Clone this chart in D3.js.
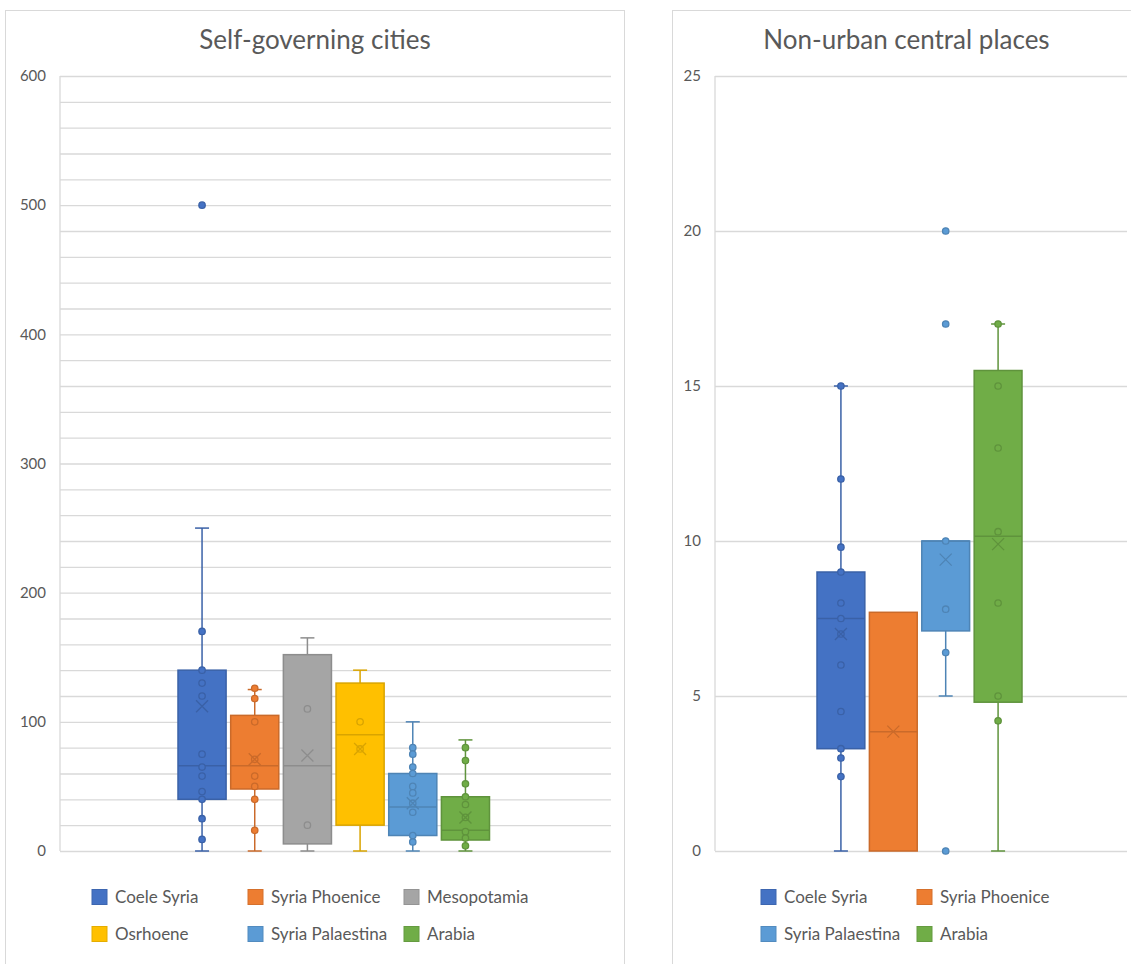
<!DOCTYPE html>
<html>
<head>
<meta charset="utf-8">
<script src="https://cdn.jsdelivr.net/npm/d3@7"></script>
<style>
  body { margin: 0; background: #fff; }
  svg { display: block; font-family: Lato, "Open Sans", sans-serif; }
</style>
</head>
<body>
<svg id="chart" width="1131" height="964"></svg>
<script>
// Left chart: self-governing cities
const leftSeries = ['Coele Syria', 'Syria Phoenice', 'Mesopotamia', 'Osrhoene', 'Syria Palaestina', 'Arabia'];
const leftColors = ['#4472C4', '#ED7D31', '#A5A5A5', '#FFC000', '#5B9BD5', '#70AD47'];
const leftMin = [0, 0, 0, 0, 0, 0];
const leftQ1 = [40, 48, 5.5, 20, 12, 8.5];
const leftMedian = [66, 66, 66, 90, 34, 16];
const leftQ3 = [140, 105, 152, 130, 60, 42];
const leftMax = [250, 125, 165, 140, 100, 86];
const leftMean = [112, 71, 74, 79, 37, 26];
const leftPoints = [
  [500, 170, 140, 130, 120, 75, 65, 58, 46, 40, 25, 9],
  [126, 118, 100, 71, 58, 50, 40, 16],
  [110, 20],
  [100, 79],
  [80, 75, 65, 60, 50, 45, 37, 30, 12, 7],
  [80, 70, 52, 42, 36, 26, 15, 10, 4],
];
const leftTicks = [0, 100, 200, 300, 400, 500, 600];
const leftGrid = d3.range(0, 601, 20);

// Right chart: non-urban central places
const rightSeries = ['Coele Syria', 'Syria Phoenice', 'Syria Palaestina', 'Arabia'];
const rightColors = ['#4472C4', '#ED7D31', '#5B9BD5', '#70AD47'];
const rightMin = [0, 0, 5, 0];
const rightQ1 = [3.3, 0, 7.1, 4.8];
const rightMedian = [7.5, 3.85, 10, 10.15];
const rightQ3 = [9, 7.7, 10, 15.5];
const rightMax = [15, 7.7, 10, 17];
const rightMean = [7.0, 3.85, 9.4, 9.9];
const rightPoints = [
  [15, 12, 9.8, 9, 8, 7.5, 7, 6, 4.5, 3.3, 3, 2.4],
  [],
  [20, 17, 10, 7.8, 6.4, 0],
  [17, 15, 13, 10.3, 8, 5, 4.2],
];
const rightTicks = [0, 5, 10, 15, 20, 25];
const rightGrid = rightTicks;

const svg = d3.select('#chart');
const textColor = '#595959';
const gridColor = '#d9d9d9';

const drawBoxChart = (opts) => {
  const g = svg.append('g');

  // panel frame
  g.append('rect')
    .attr('x', opts.panel[0]).attr('y', opts.panel[1])
    .attr('width', opts.panel[2]).attr('height', opts.panel[3])
    .attr('fill', '#fff').attr('stroke', gridColor);

  // title
  g.append('text')
    .attr('x', opts.panel[0] + opts.panel[2] / 2)
    .attr('y', 49)
    .attr('text-anchor', 'middle')
    .attr('fill', textColor)
    .style('font-size', '26px')
    .text(opts.title);

  const y = d3.scaleLinear().domain(opts.domain).range([851, 76]);
  const x = d3.scaleBand().domain(opts.series).range(opts.boxRange).paddingInner(0.087).paddingOuter(0);

  // gridlines
  g.append('g')
    .attr('transform', `translate(${opts.plot[0]},0)`)
    .call(d3.axisLeft(y).tickValues(opts.grid).tickSize(-(opts.plot[1] - opts.plot[0])).tickFormat(''))
    .call((a) => a.select('.domain').remove())
    .call((a) => a.selectAll('line').attr('stroke', gridColor).attr('stroke-width', 1.3));

  // left edge of the plot
  g.append('line')
    .attr('x1', opts.plot[0]).attr('x2', opts.plot[0])
    .attr('y1', y(opts.domain[1])).attr('y2', y(opts.domain[0]))
    .attr('stroke', gridColor).attr('stroke-width', 1.3);

  // tick labels
  g.append('g')
    .attr('transform', `translate(${opts.plot[0]},0)`)
    .call(d3.axisLeft(y).tickValues(opts.ticks).tickSize(0).tickPadding(14))
    .call((a) => a.select('.domain').remove())
    .call((a) => a.selectAll('text')
      .attr('fill', textColor)
      .style('font-size', '15px')
      .style('font-family', 'Lato, sans-serif'));

  const bw = x.bandwidth();
  const capW = 14;

  opts.series.forEach((name, i) => {
    const color = opts.colors[i];
    const dark = d3.color(color).darker(0.45).formatHex();
    const cx = x(name) + bw / 2;
    const s = g.append('g');

    // whiskers
    const whiskers = [[opts.q3[i], opts.max[i]], [opts.q1[i], opts.min[i]]];
    whiskers.forEach(([from, to]) => {
      if (from === to) return;
      s.append('line')
        .attr('x1', cx).attr('x2', cx).attr('y1', y(from)).attr('y2', y(to))
        .attr('stroke', dark).attr('stroke-width', 1.5);
      s.append('line')
        .attr('x1', cx - capW / 2).attr('x2', cx + capW / 2).attr('y1', y(to)).attr('y2', y(to))
        .attr('stroke', dark).attr('stroke-width', 1.5);
    });

    // box
    s.append('rect')
      .attr('x', x(name)).attr('width', bw)
      .attr('y', y(opts.q3[i])).attr('height', y(opts.q1[i]) - y(opts.q3[i]))
      .attr('fill', color).attr('stroke', dark).attr('stroke-width', 1.5);

    // median
    s.append('line')
      .attr('x1', x(name)).attr('x2', x(name) + bw)
      .attr('y1', y(opts.median[i])).attr('y2', y(opts.median[i]))
      .attr('stroke', dark).attr('stroke-width', 1.5);

    // points
    s.selectAll('circle')
      .data(opts.points[i])
      .enter()
      .append('circle')
      .attr('cx', cx).attr('cy', (d) => y(d)).attr('r', 3.2)
      .attr('fill', color).attr('stroke', dark).attr('stroke-width', 1.3);

    // mean marker
    const my = y(opts.mean[i]);
    const m = 6;
    s.append('path')
      .attr('d', `M${cx - m},${my - m}L${cx + m},${my + m}M${cx - m},${my + m}L${cx + m},${my - m}`)
      .attr('stroke', dark).attr('stroke-width', 1.3).attr('fill', 'none');
  });

  // legend
  const legend = g.append('g');
  opts.series.forEach((name, i) => {
    const col = i % opts.legendCols.length;
    const row = Math.floor(i / opts.legendCols.length);
    const lx = opts.legendCols[col];
    const ly = 897 + row * 37;
    legend.append('rect')
      .attr('x', lx).attr('y', ly - 7.5).attr('width', 15).attr('height', 15)
      .attr('fill', opts.colors[i])
      .attr('stroke', d3.color(opts.colors[i]).darker(0.3).formatHex());
    legend.append('text')
      .attr('x', lx + 23).attr('y', ly)
      .attr('dy', '0.35em')
      .attr('fill', textColor)
      .style('font-size', '17px')
      .text(name);
  });
};

drawBoxChart({
  title: 'Self-governing cities',
  panel: [5.5, 10.5, 619, 970],
  plot: [60, 611],
  boxRange: [178, 489.5],
  domain: [0, 600],
  ticks: leftTicks,
  grid: leftGrid,
  series: leftSeries,
  colors: leftColors,
  min: leftMin, q1: leftQ1, median: leftMedian, q3: leftQ3, max: leftMax, mean: leftMean,
  points: leftPoints,
  legendCols: [92, 248, 404],
});

drawBoxChart({
  title: 'Non-urban central places',
  panel: [672.5, 10.5, 468, 970],
  plot: [715, 1127],
  boxRange: [817, 1022],
  domain: [0, 25],
  ticks: rightTicks,
  grid: rightGrid,
  series: rightSeries,
  colors: rightColors,
  min: rightMin, q1: rightQ1, median: rightMedian, q3: rightQ3, max: rightMax, mean: rightMean,
  points: rightPoints,
  legendCols: [761, 917],
});
</script>
</body>
</html>
